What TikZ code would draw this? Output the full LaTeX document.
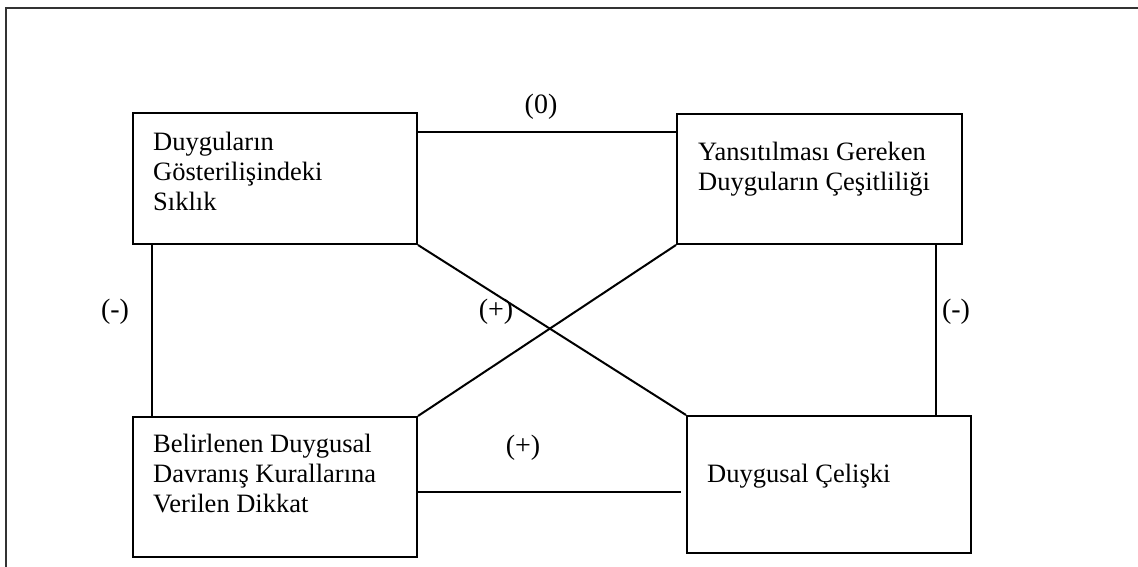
\documentclass[tikz,border=0pt]{standalone}
\usepackage{fontspec}
\setmainfont{Liberation Serif}
\usetikzlibrary{calc}
\begin{document}
\begin{tikzpicture}[x=1pt,y=-1pt,
  box/.style={draw=black,line width=2pt,rectangle,inner sep=0pt,
    minimum width=#1},
  box/.default=284pt,
  txt/.style={anchor=north west,inner sep=0pt,align=left,
    font=\fontsize{26.5}{30}\selectfont},
  sign/.style={inner sep=0pt,font=\fontsize{28}{30}\selectfont},
  link/.style={line width=2pt,black}]
\useasboundingbox (0,0) rectangle (1138,567);
% outer frame: left and top edges only
\draw[line width=2pt,black!80] (6,567) -- (6,8) -- (1138,8);

% the four boxes
\node[box,minimum height=131pt] (b1) at (275,178.5) {};
\node[box=285pt,minimum height=130pt] (b2) at (819.5,179) {};
\node[box,minimum height=140pt] (b3) at (275,487) {};
\node[box,minimum height=137pt] (b4) at (829,484.5) {};

% box texts
\node[txt] (t1) at (153,132) {Duyguların\\Gösterilişindeki\\Sıklık};
\node[txt] (t2) at (698,142) {Yansıtılması Gereken\\Duyguların Çeşitliliği};
\node[txt] (t3) at (153,434) {Belirlenen Duygusal\\Davranış Kurallarına\\Verilen Dikkat};
\node[txt] (t4) at (707,464) {Duygusal Çelişki};

% connectors
\draw[link] ([yshift=-20pt]b1.north east) -- ([yshift=-20pt]b1.north east -| b2.west);
\draw[link] ([xshift=20pt]b1.south west) -- ([xshift=20pt]b1.south west |- b3.north);
\draw[link] ([xshift=-27pt]b2.south east) -- ([xshift=-27pt]b2.south east |- b4.north);
\draw[link] ($(b3.east)+(0,5)$) -- ($(b4.west |- b3.east)+(-5,5)$);
\draw[link] (b1.south east) -- (b4.north west);
\draw[link] (b2.south west) -- (b3.north east);

% signs of the relations
\node[sign] (s0) at (541,107) {(0)};
\node[sign] (s1) at (115,312) {(-)};
\node[sign] (s2) at (956,312) {(-)};
\node[sign] (s3) at (496,312) {(+)};
\node[sign] (s4) at (523,448) {(+)};
\end{tikzpicture}
\end{document}
